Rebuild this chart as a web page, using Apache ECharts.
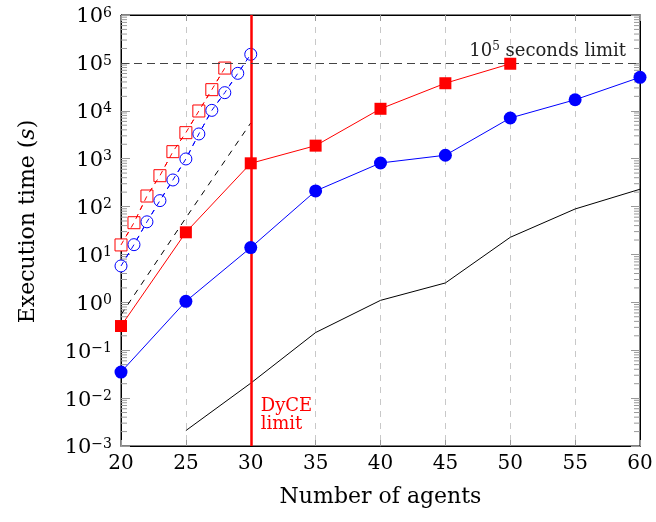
<!DOCTYPE html>
<html>
<head>
<meta charset="utf-8">
<script src="https://cdn.jsdelivr.net/npm/echarts@6/dist/echarts.min.js"></script>
<style>
  html, body { margin: 0; padding: 0; background: #fff; }
  #chart { width: 656px; height: 522px; }
</style>
</head>
<body>
<div id="chart"></div>
<script>
// Execution time (seconds) against number of agents, log scale.
const agentTicks = [20, 25, 30, 35, 40, 45, 50, 55, 60];

// Filled red squares
const redFilledX = [20, 25, 30, 35, 40, 45, 50];
const redFilledY = [0.32, 29, 800, 1870, 11000, 37600, 96000];

// Filled blue circles
const blueFilledX = [20, 25, 30, 35, 40, 45, 50, 55, 60];
const blueFilledY = [0.035, 1.05, 13.9, 212, 812, 1180, 7070, 17000, 50000];

// Solid black line
const blackX = [25, 30, 35, 40, 45, 50, 55, 60];
const blackY = [0.0021, 0.0205, 0.234, 1.1, 2.54, 22.8, 89, 230];

// Dashed black line
const blackDashX = [20, 25, 30];
const blackDashY = [0.55, 58, 5560];

// Open red squares (dashed)
const redOpenX = [20, 21, 22, 23, 24, 25, 26, 27, 28];
const redOpenY = [15.8, 46, 166, 441, 1400, 3490, 9900, 27600, 78000];

// Open blue circles (dashed)
const blueOpenX = [20, 21, 22, 23, 24, 25, 26, 27, 28, 29, 30];
const blueOpenY = [5.75, 16, 48, 133, 359, 986, 3280, 10200, 23900, 60500, 151000];

// Limits
const timeLimit = 100000;
const dyceLimit = 30;

// Decades shown on the y axis, and the minor subdivisions inside each
const decades = [-3, -2, -1, 0, 1, 2, 3, 4, 5];
const minorSteps = [2, 3, 4, 5, 6, 7, 8, 9];

const pairs = (xs, ys) => xs.map((x, i) => [x, ys[i]]);
const minorTickValues = [];
decades.forEach(d => minorSteps.forEach(m => minorTickValues.push([20, m * Math.pow(10, d)])));

const SERIF = '"DejaVu Serif", "Liberation Serif", serif';
const RED = '#ff0000';
const BLUE = '#0000ff';

const chart = echarts.init(document.getElementById('chart'), null, { renderer: 'canvas' });

const supFmt = function (v) {
  const e = Math.round(Math.log10(v));
  return '{b|10}{s|' + (e < 0 ? '\u2212' + (-e) : e) + '}';
};

chart.setOption({
  animation: false,
  backgroundColor: '#fff',
  textStyle: { fontFamily: SERIF },
  grid: { left: 121, right: 16, top: 15, bottom: 76, show: true, borderColor: '#000', borderWidth: 1, backgroundColor: 'transparent' },
  xAxis: [{
    type: 'value', min: 20, max: 60, interval: 5,
    name: 'Number of agents', nameLocation: 'middle', nameGap: 40,
    nameTextStyle: { fontFamily: SERIF, fontSize: 22, color: '#000' },
    axisLine: { show: true, lineStyle: { color: '#000', width: 1 } },
    axisTick: { show: true, inside: true, length: 6, lineStyle: { color: '#999' } },
    axisLabel: { fontFamily: SERIF, fontSize: 20, color: '#000', margin: 8 },
    splitLine: { show: true, lineStyle: { color: '#c8c8c8', type: [6, 6], width: 1 } }
  }, {
    type: 'value', min: 20, max: 60, interval: 5, position: 'top',
    axisLine: { show: true, lineStyle: { color: '#000', width: 1 } },
    axisTick: { show: true, inside: true, length: 6, lineStyle: { color: '#999' } },
    axisLabel: { show: false }, splitLine: { show: false }
  }],
  yAxis: [{
    type: 'log', logBase: 10, min: 0.001, max: 1000000,
    name: '{a|Execution time (}{i|s}{a|)}', nameLocation: 'middle', nameGap: 82,
    nameTextStyle: {
      padding: [0, 0, 0, 18],
      rich: {
        a: { fontFamily: SERIF, fontSize: 22, color: '#000' },
        i: { fontFamily: SERIF, fontSize: 22, color: '#000', fontStyle: 'italic' }
      }
    },
    axisLine: { show: true, lineStyle: { color: '#000', width: 1 } },
    axisTick: { show: true, inside: true, length: 9, lineStyle: { color: '#999' } },
    axisLabel: {
      formatter: supFmt, margin: 9, padding: [4, 0, 0, 0],
      rich: {
        b: { fontFamily: SERIF, fontSize: 21, color: '#000', lineHeight: 22 },
        s: { fontFamily: SERIF, fontSize: 14, color: '#000', verticalAlign: 'top', lineHeight: 12 }
      }
    },
    splitLine: { show: false }
  }, {
    type: 'log', logBase: 10, min: 0.001, max: 1000000, position: 'right',
    axisLine: { show: true, lineStyle: { color: '#000', width: 1 } },
    axisTick: { show: true, inside: true, length: 9, lineStyle: { color: '#999' } },
    axisLabel: { show: false }, splitLine: { show: false }
  }],
  series: [
    {
      // minor ticks of the log axis on both sides of the frame
      type: 'custom', silent: true, z: 1,
      data: minorTickValues,
      renderItem: function (params, api) {
        const p = api.coord([api.value(0), api.value(1)]);
        const cs = params.coordSys;
        return {
          type: 'group', children: [
            { type: 'line', shape: { x1: cs.x, y1: p[1], x2: cs.x + 6, y2: p[1] }, style: { stroke: '#999', lineWidth: 1 } },
            { type: 'line', shape: { x1: cs.x + cs.width - 6, y1: p[1], x2: cs.x + cs.width, y2: p[1] }, style: { stroke: '#999', lineWidth: 1 } }
          ]
        };
      }
    },
    {
      name: 'black', type: 'line', data: pairs(blackX, blackY), symbol: 'none',
      lineStyle: { color: '#000', width: 1 }, z: 3
    },
    {
      name: 'black dashed', type: 'line', data: pairs(blackDashX, blackDashY), symbol: 'none',
      lineStyle: { color: '#000', width: 1, type: [6, 6] }, z: 3
    },
    {
      name: 'red open', type: 'line', data: pairs(redOpenX, redOpenY),
      symbol: 'rect', symbolSize: 12, itemStyle: { color: '#fff', borderColor: RED, borderWidth: 1 },
      lineStyle: { color: RED, width: 1, type: [5, 5] }, z: 3
    },
    {
      name: 'red open line', type: 'line', data: pairs(redOpenX, redOpenY), symbol: 'none',
      lineStyle: { color: RED, width: 1, type: [5, 5] }, z: 4, silent: true
    },
    {
      name: 'blue open', type: 'line', data: pairs(blueOpenX, blueOpenY),
      symbol: 'circle', symbolSize: 12, itemStyle: { color: '#fff', borderColor: BLUE, borderWidth: 1 },
      lineStyle: { color: BLUE, width: 1, type: [5, 5] }, z: 3
    },
    {
      name: 'blue open line', type: 'line', data: pairs(blueOpenX, blueOpenY), symbol: 'none',
      lineStyle: { color: BLUE, width: 1, type: [5, 5] }, z: 4, silent: true
    },
    {
      name: 'red filled', type: 'line', data: pairs(redFilledX, redFilledY),
      symbol: 'rect', symbolSize: 12, itemStyle: { color: RED },
      lineStyle: { color: RED, width: 1 }, z: 5,
      markLine: {
        silent: true, symbol: 'none', animation: false,
        data: [
          { xAxis: dyceLimit, lineStyle: { color: RED, width: 2.5, type: 'solid' }, label: { show: false } },
          { yAxis: timeLimit, lineStyle: { color: '#444', width: 1.2, type: [8, 5] },
            label: {
              show: true, position: 'insideEndTop', distance: [14, 2],
              formatter: '{b|10}{s|5}{b| seconds limit}',
              rich: {
                b: { fontFamily: SERIF, fontSize: 18, color: '#222', lineHeight: 20 },
                s: { fontFamily: SERIF, fontSize: 12, color: '#222', verticalAlign: 'top', lineHeight: 11 }
              }
            } }
        ]
      },
      markPoint: {
        silent: true, symbol: 'rect', symbolSize: 0,
        data: [{ coord: [dyceLimit, 0.0043], value: 0 }],
        label: {
          show: true, position: 'right', distance: 10, formatter: 'DyCE\nlimit',
          fontFamily: SERIF, fontSize: 18, lineHeight: 18, color: RED, align: 'left'
        }
      }
    },
    {
      name: 'blue filled', type: 'line', data: pairs(blueFilledX, blueFilledY),
      symbol: 'circle', symbolSize: 13, itemStyle: { color: BLUE },
      lineStyle: { color: BLUE, width: 1 }, z: 5
    }
  ]
});
</script>
</body>
</html>
